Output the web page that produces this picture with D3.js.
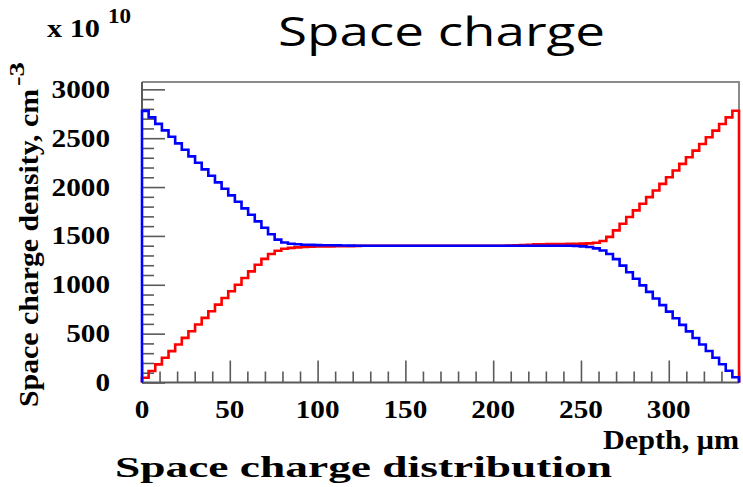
<!DOCTYPE html>
<html>
<head>
<meta charset="utf-8">
<script src="https://cdn.jsdelivr.net/npm/d3@7"></script>
<style>
  html, body { margin: 0; padding: 0; background: #fff; }
  svg { display: block; }
</style>
</head>
<body>
<svg id="chart" width="743" height="487"></svg>
<script>
// ---- data (space charge density, units of 1e10 cm^-3) ----
const depthRange = [0, 340];          // µm, histogram range
const nBins = 90;
const blueSeries = [
  2780, 2713, 2647, 2580, 2514, 2447, 2381, 2314, 2248, 2181,
  2115, 2048, 1982, 1915, 1849, 1782, 1716, 1649, 1583, 1517,
  1462, 1432, 1420, 1414, 1410, 1408, 1406, 1405, 1404, 1403,
  1402, 1401, 1400, 1400, 1400, 1400, 1400, 1400, 1400, 1400,
  1400, 1400, 1400, 1400, 1400, 1400, 1400, 1400, 1400, 1400,
  1400, 1400, 1400, 1400, 1400, 1400, 1400, 1400, 1400, 1400,
  1400, 1400, 1400, 1400, 1399, 1397, 1393, 1386, 1372, 1350,
  1315, 1263, 1196, 1128, 1061, 994, 927, 859, 792, 725,
  658, 590, 523, 456, 389, 322, 254, 187, 120, 53
];
const redSeries = [
  49, 117, 185, 253, 321, 389, 457, 525, 593, 661,
  729, 797, 865, 933, 1001, 1069, 1137, 1205, 1265, 1315,
  1348, 1368, 1378, 1383, 1387, 1389, 1391, 1392, 1393, 1394,
  1395, 1396, 1398, 1399, 1400, 1400, 1400, 1400, 1400, 1400,
  1400, 1400, 1400, 1400, 1400, 1400, 1400, 1400, 1400, 1400,
  1400, 1400, 1400, 1400, 1400, 1402, 1404, 1407, 1410, 1413,
  1415, 1416, 1417, 1418, 1419, 1420, 1421, 1424, 1430, 1448,
  1490, 1557, 1625, 1693, 1761, 1829, 1897, 1965, 2033, 2101,
  2169, 2237, 2305, 2373, 2441, 2509, 2577, 2645, 2713, 2781
];
const xTicksMajor = [0, 50, 100, 150, 200, 250, 300];
const yTicksMajor = [0, 500, 1000, 1500, 2000, 2500, 3000];
const yMax = 3075;
const titleText = "Space charge";
const yTitleText = "Space charge density, cm";
const yTitleSup = "-3";
const xTitleText = "Depth, \u03bcm";
const bottomText = "Space charge distribution";
const exponentBase = "x 10";
const exponentSup = "10";

// ---- layout ----
const svg = d3.select("#chart");
const frame = { left: 142, right: 739, top: 82, bottom: 382.5 };
const x = d3.scaleLinear().domain(depthRange).range([frame.left, frame.right]);
const y = d3.scaleLinear().domain([0, yMax]).range([frame.bottom, frame.top]);

const serif = "'Liberation Serif', 'Times New Roman', serif";
const axisColor = "#5a5a5a";

// frame (top and right)
svg.append("path")
  .attr("d", `M${frame.left},${frame.top}H${frame.right}V${frame.bottom}`)
  .attr("fill", "none").attr("stroke", "#8a8a8a").attr("stroke-width", 2);

// ticks via d3 axes (inward)
const xMinor = d3.range(0, depthRange[1] + 0.001, 10).filter(v => v % 50 !== 0);
const yMinor = d3.range(0, 3000.001, 100).filter(v => v % 500 !== 0);

const gx = svg.append("g").attr("transform", `translate(0,${frame.bottom})`);
gx.call(d3.axisBottom(x).tickValues(xTicksMajor).tickSize(-22).tickFormat(""));
const gxm = svg.append("g").attr("transform", `translate(0,${frame.bottom})`);
gxm.call(d3.axisBottom(x).tickValues(xMinor).tickSize(-11).tickFormat(""));
const gy = svg.append("g").attr("transform", `translate(${frame.left},0)`);
gy.call(d3.axisLeft(y).tickValues(yTicksMajor).tickSize(-23).tickFormat(""));
const gym = svg.append("g").attr("transform", `translate(${frame.left},0)`);
gym.call(d3.axisLeft(y).tickValues(yMinor).tickSize(-12).tickFormat(""));
[gx, gxm, gy, gym].forEach(g => {
  g.selectAll(".domain").remove();
  g.selectAll(".tick line").attr("stroke", axisColor).attr("stroke-width", 1.6);
});
// axis lines
svg.append("line").attr("x1", frame.left).attr("x2", frame.right)
  .attr("y1", frame.bottom).attr("y2", frame.bottom)
  .attr("stroke", axisColor).attr("stroke-width", 2);
svg.append("line").attr("x1", frame.left).attr("x2", frame.left)
  .attr("y1", frame.top).attr("y2", frame.bottom)
  .attr("stroke", axisColor).attr("stroke-width", 2);

// tick labels
svg.append("g").selectAll("text").data(xTicksMajor).join("text")
  .attr("x", d => x(d)).attr("y", 418)
  .attr("text-anchor", "middle")
  .attr("font-family", serif).attr("font-weight", "bold").attr("font-size", 26)
  .attr("textLength", d => String(d).length * 14.6)
  .attr("lengthAdjust", "spacingAndGlyphs")
  .text(d => d);
svg.append("g").selectAll("text").data(yTicksMajor).join("text")
  .attr("x", 110).attr("y", d => y(d) + 8.5)
  .attr("text-anchor", "end")
  .attr("font-family", serif).attr("font-weight", "bold").attr("font-size", 26)
  .attr("textLength", d => String(d).length * 14.6)
  .attr("lengthAdjust", "spacingAndGlyphs")
  .text(d => d);

// histograms (step outline, ROOT style)
const binW = (depthRange[1] - depthRange[0]) / nBins;
function stepPoints(vals) {
  const pts = [[depthRange[0], 0]];
  vals.forEach((v, i) => {
    pts.push([depthRange[0] + i * binW, v]);
    pts.push([depthRange[0] + (i + 1) * binW, v]);
  });
  pts.push([depthRange[1], 0]);
  return pts;
}
const line = d3.line().x(d => x(d[0])).y(d => y(d[1]));
svg.append("path").attr("d", line(stepPoints(redSeries)))
  .attr("fill", "none").attr("stroke", "#ff0000").attr("stroke-width", 2.6);
svg.append("path").attr("d", line(stepPoints(blueSeries)))
  .attr("fill", "none").attr("stroke", "#0000ff").attr("stroke-width", 2.6);

// title
svg.append("text").attr("x", 278).attr("y", 46)
  .attr("font-family", "'Open Sans', 'DejaVu Sans', sans-serif")
  .attr("font-size", 40)
  .attr("textLength", 327).attr("lengthAdjust", "spacingAndGlyphs")
  .text(titleText);

// exponent label
svg.append("text").attr("x", 47).attr("y", 37)
  .attr("font-family", serif).attr("font-weight", "bold").attr("font-size", 26)
  .attr("textLength", 53).attr("lengthAdjust", "spacingAndGlyphs")
  .text(exponentBase);
svg.append("text").attr("x", 108).attr("y", 23)
  .attr("font-family", serif).attr("font-weight", "bold").attr("font-size", 21)
  .attr("textLength", 23).attr("lengthAdjust", "spacingAndGlyphs")
  .text(exponentSup);

// y axis title
const yt = svg.append("g").attr("transform", "translate(38,407) rotate(-90)");
yt.append("text").attr("x", 0).attr("y", 0)
  .attr("font-family", serif).attr("font-weight", "bold").attr("font-size", 27)
  .attr("textLength", 318).attr("lengthAdjust", "spacingAndGlyphs")
  .text(yTitleText);
yt.append("text").attr("x", 321).attr("y", -14)
  .attr("font-family", serif).attr("font-weight", "bold").attr("font-size", 20)
  .attr("textLength", 24).attr("lengthAdjust", "spacingAndGlyphs")
  .text(yTitleSup);

// x axis title
svg.append("text").attr("x", 739).attr("y", 449)
  .attr("text-anchor", "end")
  .attr("font-family", serif).attr("font-weight", "bold").attr("font-size", 28)
  .attr("textLength", 136).attr("lengthAdjust", "spacingAndGlyphs")
  .text(xTitleText);

// bottom caption
svg.append("text").attr("x", 115).attr("y", 477)
  .attr("font-family", serif).attr("font-weight", "bold").attr("font-size", 30)
  .attr("textLength", 497).attr("lengthAdjust", "spacingAndGlyphs")
  .text(bottomText);
</script>
</body>
</html>
